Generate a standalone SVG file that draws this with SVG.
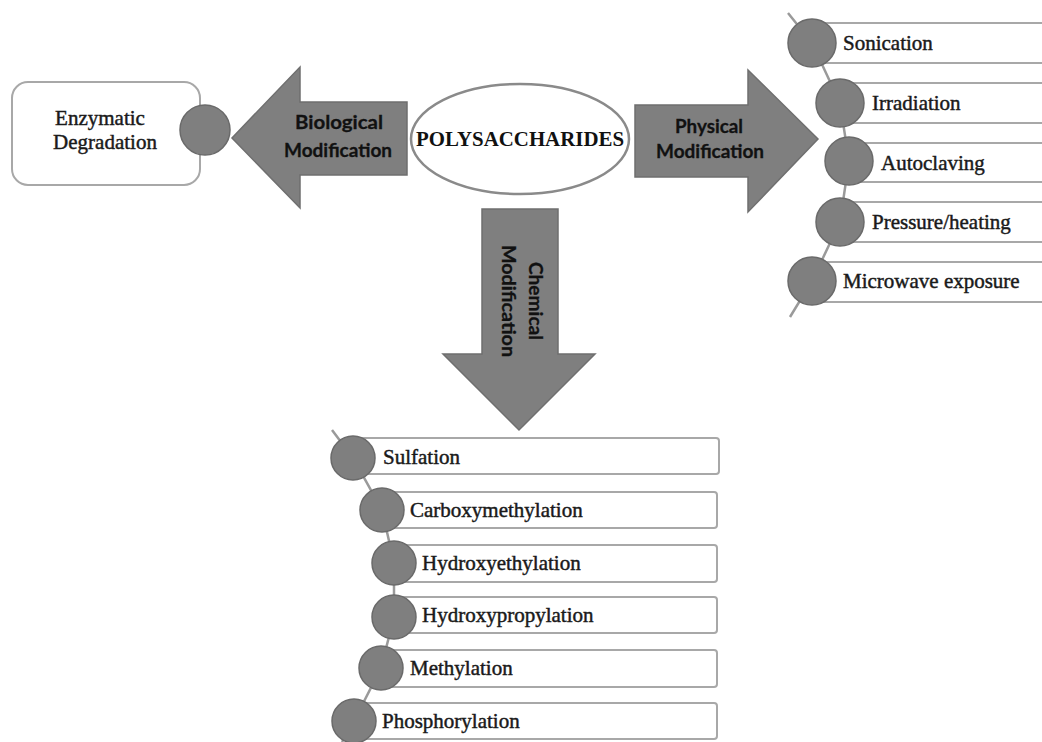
<svg xmlns="http://www.w3.org/2000/svg" width="1042" height="742" viewBox="0 0 1042 742">
<style>
.arrow{fill:#7f7f7f;stroke:#6f6f6f;stroke-width:1.5}
.dot{fill:#7f7f7f;stroke:#6a6a6a;stroke-width:1.5}
.box{fill:#fff;stroke:#a8a8a8;stroke-width:2}
.chain{fill:none;stroke:#9a9a9a;stroke-width:2.5}
.serif{font-family:"Liberation Serif","Times New Roman",serif;font-size:21px;fill:#1a1a1a;stroke:#1a1a1a;stroke-width:0.45}
.sans{font-family:Lato,"Liberation Sans",Arial,sans-serif;font-weight:bold;font-size:19px;fill:#111;stroke:#111;stroke-width:0.3}
.title{font-family:"Liberation Serif","Times New Roman",serif;font-weight:bold;font-size:21px;fill:#111}
</style>
<rect width="1042" height="742" fill="#fff"/>

<g id="connectors">
  <polyline class="chain" points="788,13 812,43 840,103 849,161 840,222 812,281 790,317"/>
  <polyline class="chain" points="332,430 353,458 382,510 394,563 394,617 381,668 354,721 342,742"/>
</g>

<g id="polysaccharides">
  <ellipse cx="520" cy="139" rx="109" ry="55" fill="#fff" stroke="#8a8a8a" stroke-width="2.5"/>
  <text class="title" x="520" y="146" text-anchor="middle" textLength="208" lengthAdjust="spacingAndGlyphs">POLYSACCHARIDES</text>
</g>

<g id="biological">
  <polygon class="arrow" points="407,102 407,175 300,175 300,208 232,138 300,67 300,102"/>
  <text class="sans" x="339" y="129" text-anchor="middle" textLength="88" lengthAdjust="spacingAndGlyphs">Biological</text>
  <text class="sans" x="338" y="157" text-anchor="middle" textLength="108" lengthAdjust="spacingAndGlyphs">Modification</text>
</g>

<g id="physical">
  <polygon class="arrow" points="635,105 748,105 748,70 818,139 748,212 748,177 635,177"/>
  <text class="sans" x="709" y="133" text-anchor="middle" textLength="68" lengthAdjust="spacingAndGlyphs">Physical</text>
  <text class="sans" x="710" y="158" text-anchor="middle" textLength="108" lengthAdjust="spacingAndGlyphs">Modification</text>
</g>

<g id="chemical">
  <polygon class="arrow" points="482,209 558,209 558,354 595,354 519,430 443,354 482,354"/>
  <g transform="translate(520,301) rotate(90)">
    <text class="sans" x="0" y="-9" text-anchor="middle" textLength="78" lengthAdjust="spacingAndGlyphs">Chemical</text>
    <text class="sans" x="0" y="18" text-anchor="middle" textLength="112" lengthAdjust="spacingAndGlyphs">Modification</text>
  </g>
</g>

<g id="enzymatic">
  <rect class="box" x="12" y="82" width="188" height="103" rx="16"/>
  <circle class="dot" cx="205" cy="130" r="25"/>
  <text class="serif" x="100" y="125" text-anchor="middle">Enzymatic</text>
  <text class="serif" x="105" y="149" text-anchor="middle">Degradation</text>
</g>

<g id="sonication">
  <rect class="box" x="812" y="23" width="240" height="40"/>
  <circle class="dot" cx="812" cy="43" r="24"/>
  <text class="serif" x="843" y="50">Sonication</text>
</g>
<g id="irradiation">
  <rect class="box" x="840" y="83" width="212" height="40"/>
  <circle class="dot" cx="840" cy="103" r="24"/>
  <text class="serif" x="872" y="110">Irradiation</text>
</g>
<g id="autoclaving">
  <rect class="box" x="849" y="143" width="203" height="39"/>
  <circle class="dot" cx="849" cy="161" r="24"/>
  <text class="serif" x="881" y="170">Autoclaving</text>
</g>
<g id="pressure">
  <rect class="box" x="840" y="202" width="212" height="40"/>
  <circle class="dot" cx="840" cy="222" r="24"/>
  <text class="serif" x="872" y="229">Pressure/heating</text>
</g>
<g id="microwave">
  <rect class="box" x="812" y="262" width="240" height="40"/>
  <circle class="dot" cx="812" cy="281" r="24"/>
  <text class="serif" x="843" y="288">Microwave exposure</text>
</g>

<g id="sulfation">
  <rect class="box" x="353" y="438" width="366" height="36" rx="3"/>
  <circle class="dot" cx="353" cy="458" r="22"/>
  <text class="serif" x="383" y="464">Sulfation</text>
</g>
<g id="carboxymethylation">
  <rect class="box" x="382" y="492" width="335" height="36" rx="3"/>
  <circle class="dot" cx="382" cy="510" r="22"/>
  <text class="serif" x="410" y="517">Carboxymethylation</text>
</g>
<g id="hydroxyethylation">
  <rect class="box" x="394" y="545" width="323" height="37" rx="3"/>
  <circle class="dot" cx="394" cy="563" r="22"/>
  <text class="serif" x="422" y="570">Hydroxyethylation</text>
</g>
<g id="hydroxypropylation">
  <rect class="box" x="394" y="597" width="323" height="36" rx="3"/>
  <circle class="dot" cx="394" cy="617" r="22"/>
  <text class="serif" x="422" y="622">Hydroxypropylation</text>
</g>
<g id="methylation">
  <rect class="box" x="381" y="650" width="336" height="37" rx="3"/>
  <circle class="dot" cx="381" cy="668" r="22"/>
  <text class="serif" x="410" y="675">Methylation</text>
</g>
<g id="phosphorylation">
  <rect class="box" x="354" y="703" width="363" height="36" rx="3"/>
  <circle class="dot" cx="354" cy="721" r="22"/>
  <text class="serif" x="382" y="728">Phosphorylation</text>
</g>
</svg>
